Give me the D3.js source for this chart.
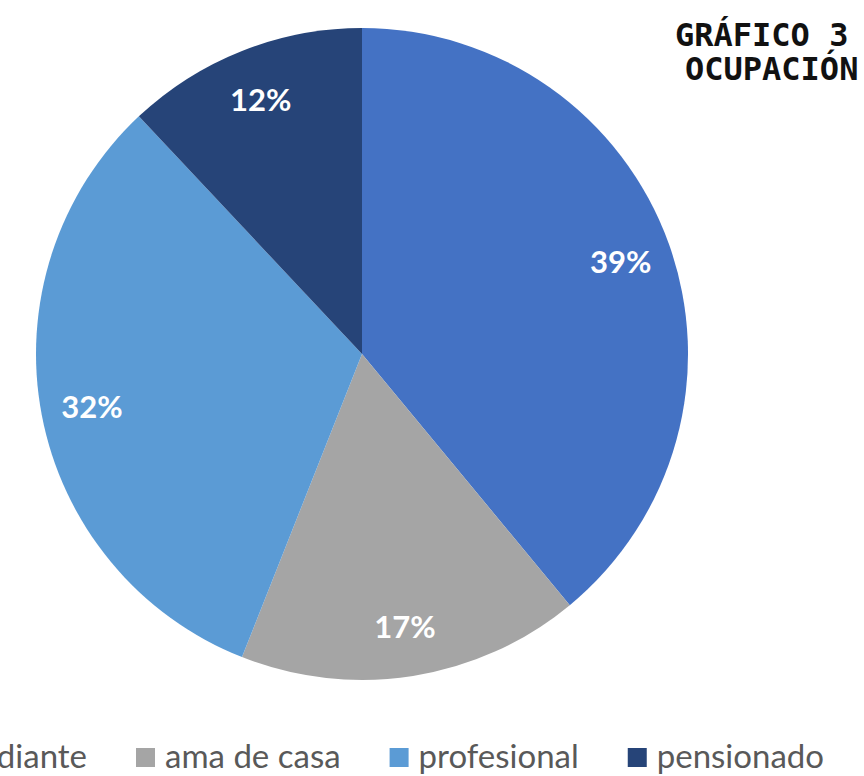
<!DOCTYPE html>
<html>
<head>
<meta charset="utf-8">
<script src="https://cdn.jsdelivr.net/npm/d3@7"></script>
<style>
  html, body { margin: 0; padding: 0; background: #ffffff; }
  svg { display: block; }
</style>
</head>
<body>
<svg id="chart" width="864" height="776"></svg>
<script>
// Occupation breakdown (percent of respondents)
const categories = ["estudiante", "ama de casa", "profesional", "pensionado"];
const values = [39, 17, 32, 12];
const colors = ["#4472C4", "#A5A5A5", "#5B9BD5", "#264478"];
const titleLines = ["GRÁFICO 3", "OCUPACIÓN"];

const svg = d3.select("#chart");
const cx = 362, cy = 354, R = 326;

const color = d3.scaleOrdinal().domain(categories).range(colors);

const pie = d3.pie().sort(null).value(d => d.value);
const data = pie(categories.map((c, i) => ({ cat: c, value: values[i] })));

const arc = d3.arc().innerRadius(0).outerRadius(R);
const labelArc = d3.arc().innerRadius(275).outerRadius(275);

const g = svg.append("g").attr("transform", `translate(${cx},${cy})`);

g.selectAll("path.slice")
  .data(data)
  .join("path")
  .attr("class", "slice")
  .attr("d", arc)
  .attr("fill", d => color(d.data.cat));

g.selectAll("text.pct")
  .data(data)
  .join("text")
  .attr("class", "pct")
  .attr("transform", d => `translate(${labelArc.centroid(d)})`)
  .attr("text-anchor", "middle")
  .attr("dy", "0.4em")
  .attr("font-family", "Lato, 'Open Sans', sans-serif")
  .attr("font-weight", 700)
  .attr("font-size", 31)
  .attr("fill", "#ffffff")
  .text(d => d.data.value + "%");

// Title, top right
const title = svg.append("g")
  .attr("font-family", "'DejaVu Sans Mono', monospace")
  .attr("font-weight", 700)
  .attr("font-size", 32)
  .attr("fill", "#111111");
title.append("text").attr("x", 675).attr("y", 46).text(titleLines[0]);
title.append("text").attr("x", 685).attr("y", 80).text(titleLines[1]);

// Legend along the bottom
const legend = svg.append("g")
  .attr("font-family", "Lato, 'Open Sans', sans-serif")
  .attr("font-size", 33)
  .attr("fill", "#595959");

const sq = 19, gapText = 10, gapItem = 49, baseY = 768;
const items = legend.selectAll("g.item")
  .data(categories)
  .join("g")
  .attr("class", "item");
items.append("rect")
  .attr("width", sq).attr("height", sq)
  .attr("y", baseY - 20)
  .attr("fill", d => color(d));
items.append("text")
  .attr("x", sq + gapText)
  .attr("y", baseY)
  .text(d => d);

// Lay items out left to right so the second marker sits at x = 136
const widths = [];
items.each(function () {
  widths.push(sq + gapText + d3.select(this).select("text").node().getComputedTextLength());
});
let x = 136 - (widths[0] + gapItem);
items.each(function (d, i) {
  d3.select(this).attr("transform", `translate(${x},0)`);
  x += widths[i] + gapItem;
});
</script>
</body>
</html>
